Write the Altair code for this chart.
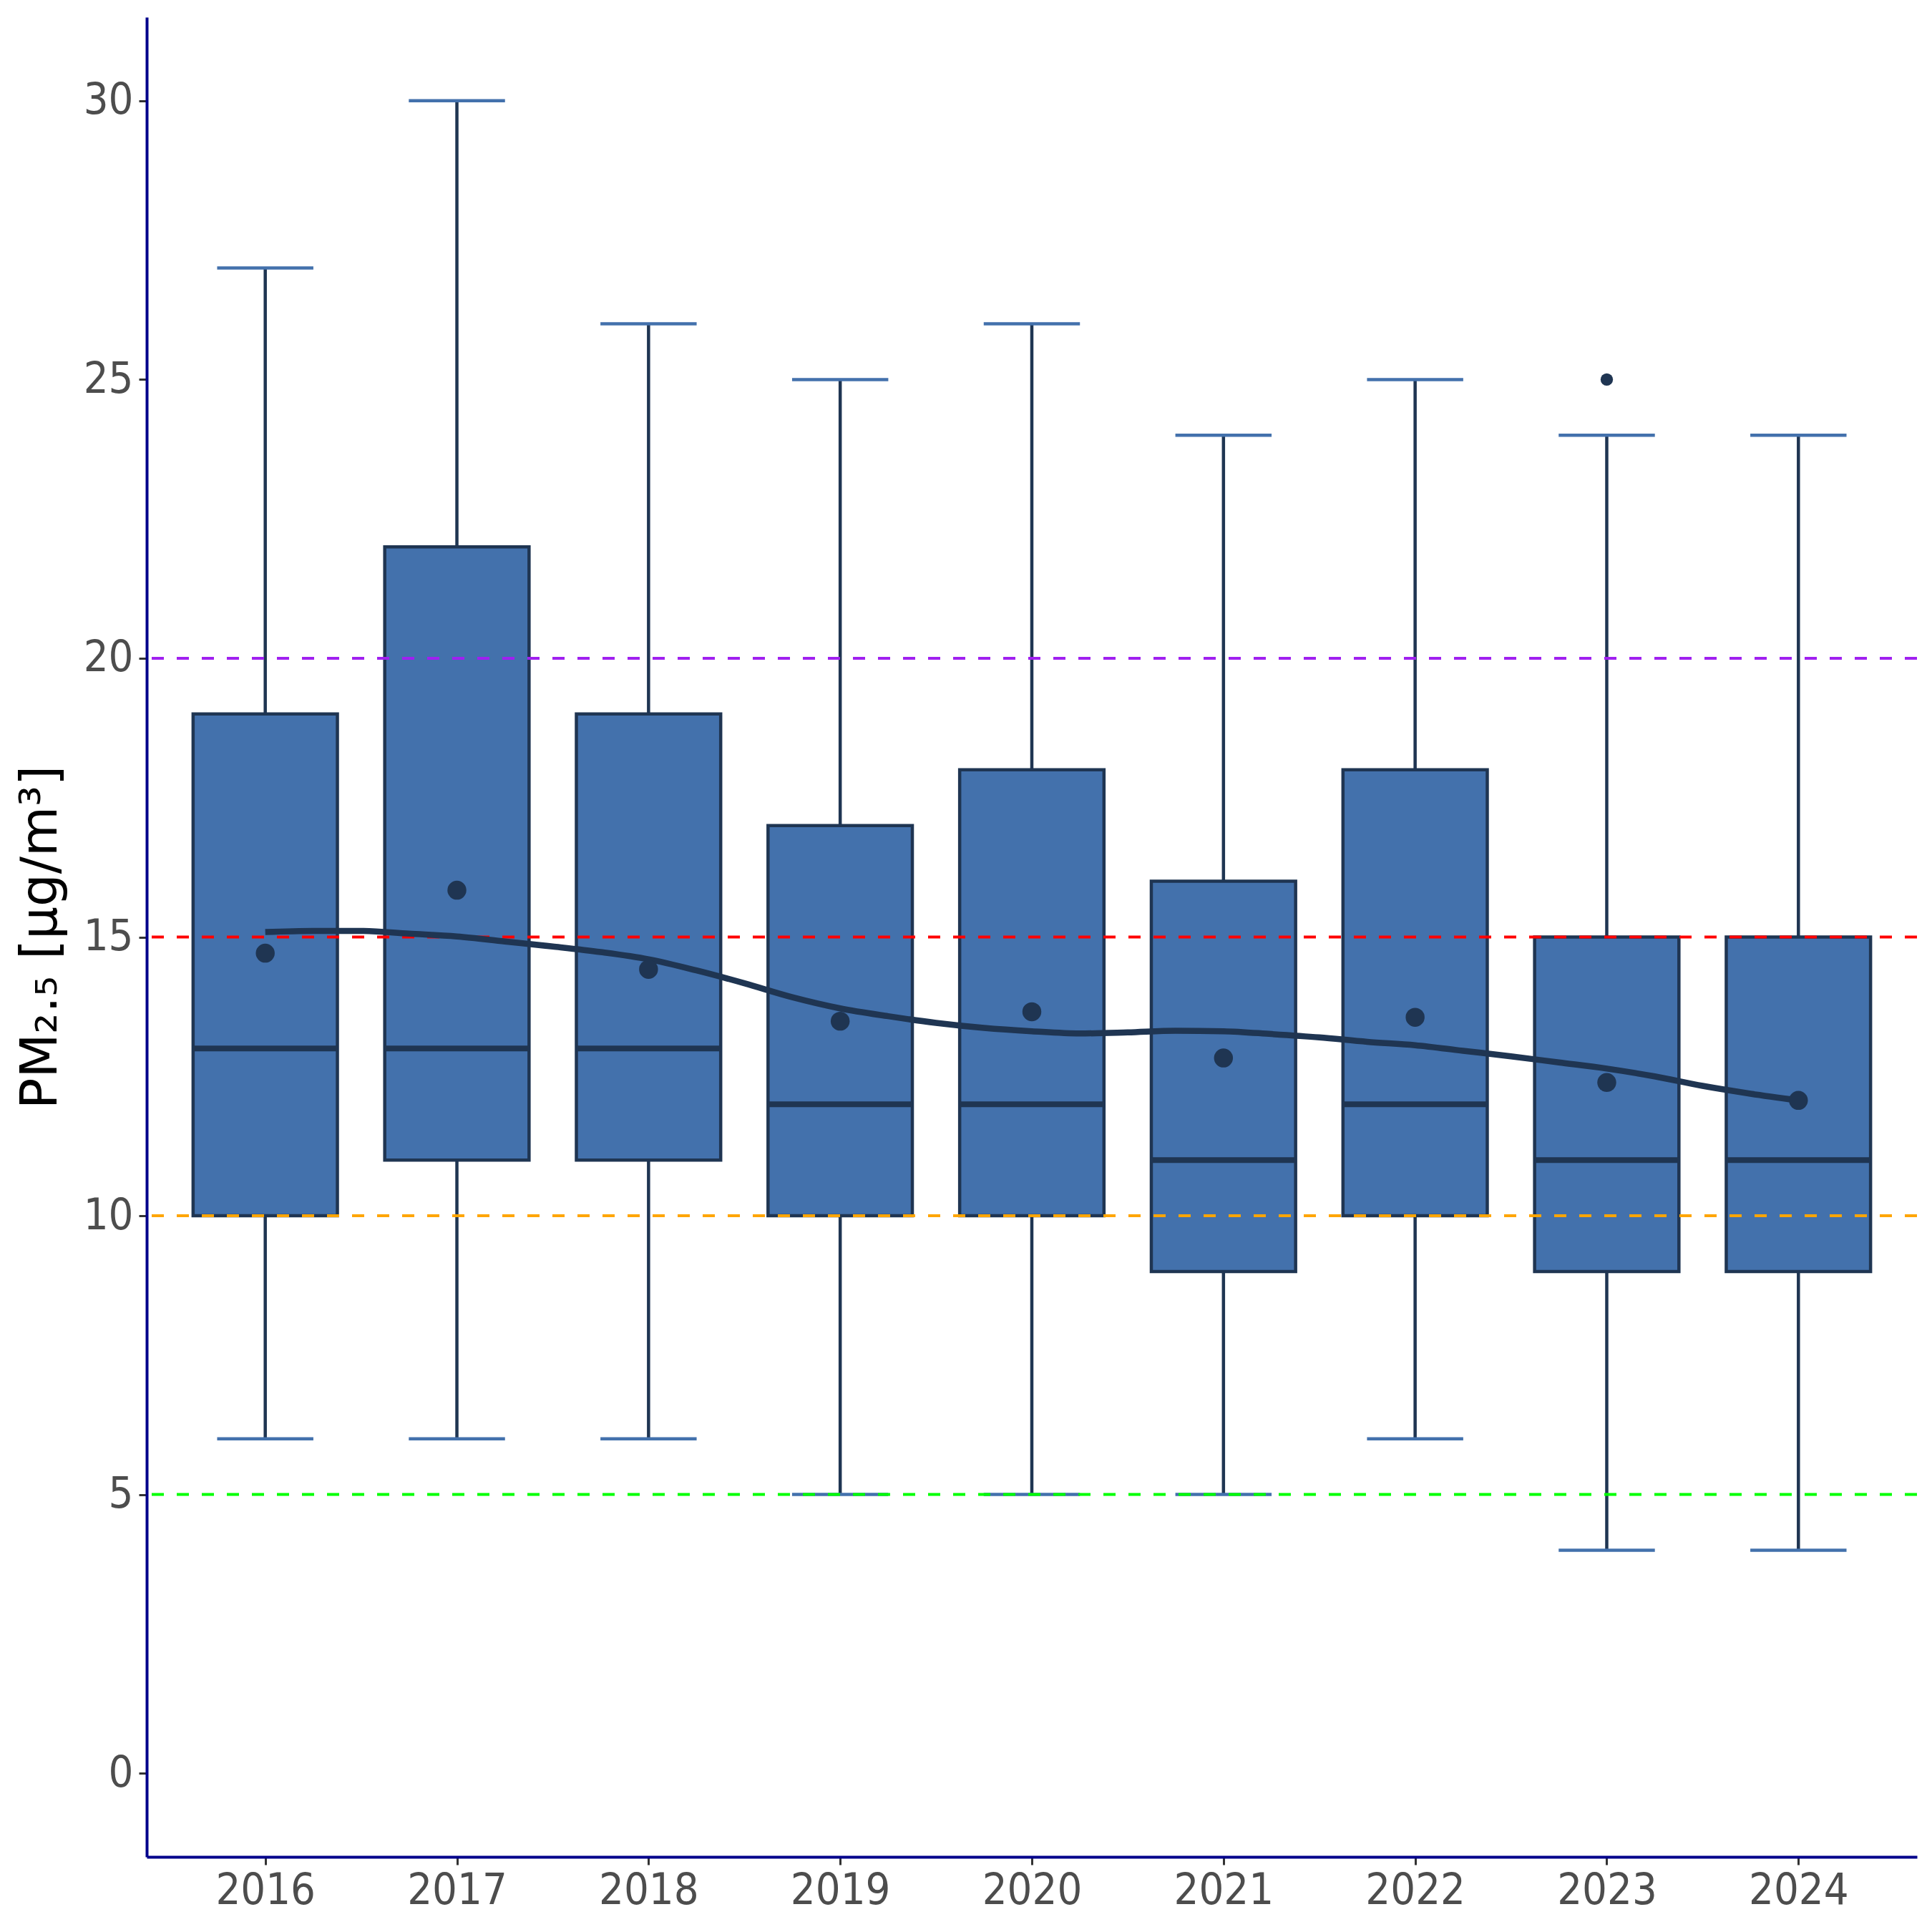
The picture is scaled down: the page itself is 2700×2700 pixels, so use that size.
import altair as alt
import pandas as pd

# ---- data ----
years = [2016, 2017, 2018, 2019, 2020, 2021, 2022, 2023, 2024]
lower = [6, 6, 6, 5, 5, 5, 6, 4, 4]
q1 = [10, 11, 11, 10, 10, 9, 10, 9, 9]
median = [13, 13, 13, 12, 12, 11, 12, 11, 11]
q3 = [19, 22, 19, 17, 18, 16, 18, 15, 15]
upper = [27, 30, 26, 25, 26, 24, 25, 24, 24]
means = [14.71, 15.84, 14.42, 13.49, 13.66, 12.83, 13.56, 12.39, 12.07]

outlier_years = [2023]
outlier_values = [25]

smooth_x = [2016.0, 2016.25, 2016.5, 2016.75, 2017.0, 2017.25, 2017.5, 2017.75,
            2018.0, 2018.25, 2018.5, 2018.75, 2019.0, 2019.25, 2019.5, 2019.75,
            2020.0, 2020.25, 2020.5, 2020.75, 2021.0, 2021.25, 2021.5, 2021.75,
            2022.0, 2022.25, 2022.5, 2022.75, 2023.0, 2023.25, 2023.5, 2023.75, 2024.0]
smooth_y = [15.09, 15.11, 15.11, 15.06, 15.01, 14.92, 14.83, 14.73,
            14.60, 14.40, 14.17, 13.92, 13.72, 13.58, 13.46, 13.37,
            13.31, 13.27, 13.29, 13.32, 13.31, 13.26, 13.20, 13.12,
            13.06, 12.96, 12.86, 12.75, 12.64, 12.50, 12.33, 12.19, 12.07]

ref_values = [5, 10, 15, 20]
ref_levels = ["5", "10", "15", "20"]

y_ticks = [0, 5, 10, 15, 20, 25, 30]

# ---- tables ----
box_df = pd.DataFrame({"year": years, "lower": lower, "q1": q1, "median": median,
                       "q3": q3, "upper": upper, "mean": means})
out_df = pd.DataFrame({"year": outlier_years, "value": outlier_values})
smooth_df = pd.DataFrame({"year": smooth_x, "value": smooth_y})
ref_df = pd.DataFrame({"value": ref_values, "level": ref_levels})

# ---- styling ----
FILL = "#4371AC"
DARK = "#1F3552"
LABEL_FONT = "DejaVu Sans Condensed, DejaVu Sans"
TITLE = "PM₂.₅ [µg/m³]"

W = 2474
STEP = W / 9.2

xscale = alt.Scale(domain=[2015.4, 2024.6], nice=False, zero=False)
yscale = alt.Scale(domain=[-1.5, 31.5], nice=False, zero=False)

xaxis = alt.Axis(values=years, format="d", title=None, grid=False,
                 tickSize=11, labelPadding=6)
yaxis = alt.Axis(values=y_ticks, title=TITLE, grid=False, tickSize=11,
                 labelPadding=8, minExtent=92, maxExtent=92, titlePadding=20)


def X(field="year"):
    return alt.X(f"{field}:Q", scale=xscale, axis=xaxis)


def Y(field):
    return alt.Y(f"{field}:Q", scale=yscale, axis=yaxis)


base = alt.Chart(box_df)

whisker = base.mark_rule(color=DARK, strokeWidth=4.5).encode(
    x=X(), y=Y("lower"), y2="upper")
cap_lo = base.mark_tick(orient="horizontal", size=STEP * 0.5, thickness=4.5,
                        color=FILL, opacity=1).encode(x=X(), y=Y("lower"))
cap_hi = base.mark_tick(orient="horizontal", size=STEP * 0.5, thickness=4.5,
                        color=FILL, opacity=1).encode(x=X(), y=Y("upper"))
boxes = base.mark_bar(size=STEP * 0.75, fill=FILL, stroke=DARK, strokeWidth=4.5,
                      opacity=1).encode(x=X(), y=Y("q1"), y2="q3")
med = base.mark_tick(orient="horizontal", size=STEP * 0.75, thickness=8,
                     color=DARK, opacity=1).encode(x=X(), y=Y("median"))

refs = alt.Chart(ref_df).mark_rule(strokeDash=[17, 18], strokeWidth=4).encode(
    y=Y("value"),
    color=alt.Color("level:N", legend=None,
                    scale=alt.Scale(domain=["5", "10", "15", "20"],
                                    range=["#00FF00", "#FFA500", "#FF0000", "#A020F0"])))

smooth = alt.Chart(smooth_df).mark_line(color=DARK, strokeWidth=8.5,
                                        interpolate="monotone").encode(
    x=X(), y=Y("value"))

mean_pts = base.mark_circle(size=700, color=DARK, opacity=1).encode(
    x=X(), y=Y("mean"))
outl = alt.Chart(out_df).mark_circle(size=300, color=DARK, opacity=1).encode(
    x=X(), y=Y("value"))

chart = alt.layer(whisker, cap_lo, cap_hi, boxes, med, refs, smooth,
                  mean_pts, outl).properties(
    width=W, height=2571,
    padding={"left": 12, "top": 16, "right": 6, "bottom": 10},
    background="white",
).configure_view(stroke=None).configure_axis(
    domainColor="#00008B", domainWidth=4,
    tickColor="#333333", tickWidth=3,
    labelFont=LABEL_FONT, labelFontSize=61, labelColor="#4D4D4D",
    titleFont="DejaVu Sans", titleFontSize=72, titleColor="#000000",
    titleFontWeight="normal",
)

chart.save("out.html", embed_options={"renderer": "svg", "actions": False})
